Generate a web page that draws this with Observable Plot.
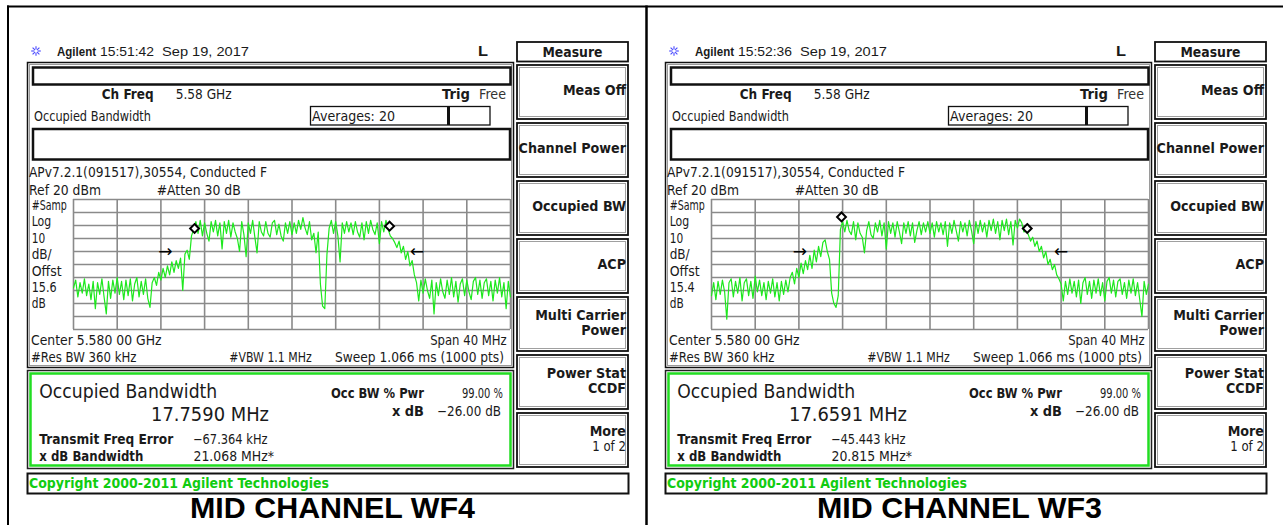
<!DOCTYPE html>
<html><head><meta charset="utf-8">
<script src="https://cdn.jsdelivr.net/npm/d3@7"></script>
<script src="https://cdn.jsdelivr.net/npm/@observablehq/plot@0.6"></script>
<style>
html,body{margin:0;padding:0;background:#fff;}
#page{position:relative;width:1283px;height:525px;overflow:hidden;background:#fff;}
#chrome{position:absolute;left:0;top:0;}
.plot{position:absolute;width:439px;height:132px;}
</style></head><body>
<div id="page"><svg id="chrome" width="1283" height="525"></svg></div>
<script>
// ---------- data ----------
// sweep: center 5.580 GHz, span 40 MHz -> offsets in MHz, 0.2 MHz per sample
const sweepStartMHz = -20, sweepStepMHz = 0.2;
const gridFreqMHz = [-20,-16,-12,-8,-4,0,4,8,12,16,20];
const gridLevelDbm = [-80,-70,-60,-50,-40,-30,-20,-10,0,10,20];

const traceWF4 = [
-48,-42,-55,-44,-52,-41,-54,-45,-57,-43,
-64,-44,-53,-41,-55,-68,-43,-56,-42,-52,
-40,-53,-43,-57,-42,-54,-41,-58,-45,-40,
-55,-43,-53,-41,-56,-63,-44,-40,-46,-36,
-42,-33,-40,-31,-38,-28,-36,-27,-33,-25,
-50,-22,-19,-26,-8,-3,3,-6,4,-8,
2,-6,-12,3,-5,4,-8,2,-18,3,
-6,4,-9,2,-5,-10,-20,3,-7,-24,
2,-6,4,-9,-21,3,-5,-8,3,-6,
-9,2,4,-7,1,-8,-12,2,-6,3,
-7,2,-6,4,-3,6,-2,-7,3,-11,
-6,-21,-5,-45,-62,-64,-22,-2,4,-6,
3,-8,-28,2,-6,3,-5,2,-7,3,
-5,-9,2,-11,3,-6,4,-3,-7,2,
-14,3,-5,4,-3,-8,-10,-13,-17,-12,
-21,-16,-26,-20,-31,-27,-38,-44,-58,-42,
-52,-41,-50,-56,-42,-68,-44,-54,-41,-51,
-56,-42,-53,-40,-55,-43,-59,-45,-41,-54,
-42,-51,-57,-43,-40,-53,-42,-56,-44,-41,
-54,-43,-58,-42,-52,-40,-55,-44,-64,-43,
-55];

const traceWF3 = [
-54,-44,-57,-43,-53,-42,-51,-72,-44,-41,
-55,-43,-52,-40,-58,-44,-41,-54,-43,-56,
-39,-51,-42,-54,-44,-57,-43,-52,-41,-55,
-44,-58,-43,-53,-42,-51,-40,-36,-45,-33,
-40,-29,-37,-27,-34,-23,-33,-19,-28,-16,
-24,-13,-11,-20,-26,-52,-60,-63,-54,-3,
3,-5,4,-4,-7,3,-11,2,-6,-9,
-21,-4,3,-7,-10,2,-5,4,-8,2,
-18,3,-6,2,-9,3,-5,-14,2,-6,
3,-8,2,-13,-4,3,-7,2,-5,3,
-6,2,-9,3,-5,2,-7,3,-16,2,
-6,4,-4,-12,3,-5,2,-8,4,-4,
-14,3,-6,4,-5,2,-9,4,-4,5,
-6,3,-11,4,-4,5,-7,3,-15,4,
-2,5,2,-5,-4,-7,-12,-9,-16,-12,
-20,-16,-25,-20,-30,-26,-34,-30,-38,-41,
-45,-58,-43,-53,-41,-52,-43,-55,-42,-60,
-44,-40,-53,-43,-56,-42,-52,-41,-54,-44,
-58,-43,-40,-52,-42,-55,-43,-41,-53,-44,
-56,-42,-52,-41,-54,-44,-57,-70,-43,-53,
-45];

const markerFreqWF4 = [-8.92, 8.93], markerLevelWF4 = [-2.3, -0.5];
const markerFreqWF3 = [-8.1, 8.9],   markerLevelWF3 = [6.6, -2.3];
const arrowFreqWF4 = [-11.6, 11.45], arrowFreqWF3 = [-11.9, 12.0];
const arrowLevel = -20.3, arrowGlyphs = ["→","←"];

const panelTitles = ["MID CHANNEL WF4", "MID CHANNEL WF3"];
const panelTimes = ["15:51:42", "15:52:36"];
const panelOffsets = ["15.6", "15.4"];
const panelObw = ["17.7590 MHz", "17.6591 MHz"];
const panelFreqErr = ["\u221267.364 kHz", "\u221245.443 kHz"];
const panelXdbBw = ["21.068 MHz*", "20.815 MHz*"];
const menuLabels = [["Meas Off"],["Channel Power"],["Occupied BW"],["ACP"],["Multi Carrier","Power"],["Power Stat","CCDF"],["More","1 of 2"]];

// ---------- chrome ----------
const svg = d3.select("#chrome");
function R(x1,y1,x2,y2,stroke,sw,fill){ svg.append("rect").attr("x",x1).attr("y",y1).attr("width",x2-x1).attr("height",y2-y1)
  .attr("fill",fill||"none").attr("stroke",stroke).attr("stroke-width",sw); }
function L(x1,y1,x2,y2,stroke,sw){ svg.append("line").attr("x1",x1).attr("y1",y1).attr("x2",x2).attr("y2",y2).attr("stroke",stroke).attr("stroke-width",sw); }
function T(x, yc, s, o={}){
  const size=o.size||13.5, fam=o.fam||"DejaVu Sans";
  const t = svg.append("text").attr("font-family",fam).attr("font-size",size)
    .attr("font-weight",o.bold?"bold":"normal").attr("fill",o.fill||"#1a1a1a")
    .attr("y", yc + size*(o.base||0.365)).text(s);
  const nat = t.node().getComputedTextLength();
  const w = o.w!=null ? o.w : nat*(o.k!=null ? o.k : (o.bold?0.91:0.84));
  const x0 = o.anchor==="end" ? x-w : o.anchor==="middle" ? x-w/2 : x;
  t.attr("x",x0).attr("textLength",w).attr("lengthAdjust","spacingAndGlyphs");
}

// outer frame
L(7,6.5,1283,6.5,"#000",2);
L(8,5.5,8,525,"#000",2);
L(646.5,5.5,646.5,525,"#000",2.5);

const dxs = [0, 638];
dxs.forEach((dx,pi)=>{
  // header
  const cx=36+dx, cy=51;
  for(let a=0;a<8;a++){ const an=a*Math.PI/4; L(cx+1.5*Math.cos(an),cy+1.5*Math.sin(an),cx+4.8*Math.cos(an),cy+4.8*Math.sin(an),"#4646ff",1.1); }
  T(57+dx,51,"Agilent",{bold:true,fam:"Liberation Sans",size:13,w:39,base:0.358});
  T(100+dx,51,panelTimes[pi],{fam:"Liberation Sans",size:13,w:54,base:0.358});
  T(162+dx,51,"Sep 19, 2017",{fam:"Liberation Sans",size:13,w:87,base:0.358});
  T(478+dx,51,"L",{bold:true,fam:"Liberation Sans",size:14,w:10,base:0.358});

  // display box
  R(27.5+dx,62.5,513.5+dx,367.5,"#111",1.5);
  R(29.5+dx,64.5,511.5+dx,365.5,"#9a9a9a",1);
  R(33+dx,67.5,510.5+dx,84.5,"#111",2.5);
  T(101.7+dx,94.3,"Ch Freq",{bold:true,w:52});
  T(175.7+dx,94.3,"5.58 GHz",{w:56});
  T(442+dx,94.3,"Trig",{bold:true,w:28});
  T(479+dx,94.3,"Free",{w:27,fill:"#333"});
  T(34+dx,116,"Occupied Bandwidth",{w:117});
  R(310.5+dx,106.5,490+dx,125,"#111",1.3);
  L(448.5+dx,106.5,448.5+dx,125,"#111",3);
  T(312+dx,116,"Averages: 20",{w:83});
  R(33+dx,129,510+dx,159.5,"#111",2.5);
  T(29+dx,171.7,"APv7.2.1(091517),30554, Conducted F",{w:238});
  T(29+dx,190,"Ref 20 dBm",{w:72});
  T(156.7+dx,190,"#Atten 30 dB",{w:84});
  const side=[["#Samp",35],["Log",19.5],["10",13.5],["dB/",20],["Offst",30],[panelOffsets[pi],25],["dB",14]];
  side.forEach((s,i)=>T(31.7+dx,205+i*16.4,s[0],{w:s[1]}));
  T(31+dx,340,"Center 5.580 00 GHz",{w:130.5});
  T(506.7+dx,340,"Span 40 MHz",{w:76.5,anchor:"end"});
  T(31+dx,357.3,"#Res BW 360 kHz",{w:105.5});
  T(229.3+dx,357.3,"#VBW 1.1 MHz",{w:82.4});
  T(504+dx,357.3,"Sweep 1.066 ms (1000 pts)",{w:169,anchor:"end"});

  // result box
  R(27.5+dx,370.5,513.5+dx,468.5,"#222",1.5);
  R(30.5+dx,373.5,510.5+dx,465.5,"#22dd22",2.5,"#fff");
  T(39.3+dx,390.5,"Occupied Bandwidth",{size:19.5,w:178});
  T(151+dx,414,panelObw[pi],{size:19.5,w:118});
  T(331+dx,393,"Occ BW % Pwr",{bold:true,w:93});
  T(503+dx,393,"99.00 %",{w:41,anchor:"end"});
  T(392+dx,411.5,"x dB",{bold:true,w:32});
  T(501+dx,411.5,"\u221226.00 dB",{w:64,anchor:"end"});
  T(39.3+dx,439,"Transmit Freq Error",{bold:true,w:134});
  T(193+dx,439,panelFreqErr[pi],{w:74.5});
  T(39.3+dx,456.5,"x dB Bandwidth",{bold:true,w:104});
  T(193.5+dx,456.5,panelXdbBw[pi],{w:80.5});

  // menu
  R(517+dx,42,628+dx,61.5,"#111",1.8);
  T(572.5+dx,51.7,"Measure",{bold:true,size:14,w:60,anchor:"middle"});
  const tops=[65,123,181,239,297,355,413];
  tops.forEach((t,i)=>{
    R(517+dx,t,628+dx,t+54,"#111",1.8);
    R(519.5+dx,t+2.5,625.5+dx,t+51.5,"#a0a0a0",1);
    const lab=menuLabels[i];
    if(lab.length===1) T(626+dx,t+25,lab[0],{bold:true,size:14,anchor:"end"});
    else {
      T(626+dx,t+18,lab[0],{bold:true,size:14,anchor:"end"});
      T(626+dx,t+33,lab[1],{bold:i!==6,size:14,anchor:"end",k:i===6?0.84:0.91});
    }
  });

  // copyright bar
  R(27.5+dx,473.5,628.5+dx,493.5,"#111",2);
  T(29+dx,483.5,"Copyright 2000-2011 Agilent Technologies",{bold:true,fill:"#11cc11",w:300});
});

// titles
T(190,507.5,panelTitles[0],{bold:true,fam:"Liberation Sans",size:30,w:285,fill:"#000",base:0.358});
T(817,507.5,panelTitles[1],{bold:true,fam:"Liberation Sans",size:30,w:285,fill:"#000",base:0.358});

// ---------- spectrum plots (Observable Plot) ----------
function spectrum(trace, mf, ml, af){
  const data = trace.map((p,i)=>({f: sweepStartMHz + i*sweepStepMHz, p}));
  const markers = mf.map((f,i)=>({f, p: ml[i]}));
  const arrows = af.map((f,i)=>({f, p: arrowLevel, t: arrowGlyphs[i]}));
  return Plot.plot({
    width: 439, height: 132, marginTop: 1, marginBottom: 1, marginLeft: 1, marginRight: 1,
    x: {domain: [-20, 20], axis: null},
    y: {domain: [-80, 20], axis: null},
    style: {background: "transparent", overflow: "visible"},
    marks: [
      Plot.ruleX(gridFreqMHz, {stroke: "#8a8a8a", strokeWidth: 1.6}),
      Plot.ruleY(gridLevelDbm, {stroke: "#8a8a8a", strokeWidth: 1.6}),
      Plot.line(data, {x: "f", y: "p", stroke: "#1ee81e", strokeWidth: 1.2}),
      Plot.dot(markers, {x: "f", y: "p", symbol: "diamond2", r: 4, stroke: "#000", strokeWidth: 2, fill: "#fff"}),
      Plot.text(arrows, {x: "f", y: "p", text: "t", fontSize: 17, fill: "#000", fontFamily: "DejaVu Sans"})
    ]
  });
}
const page = document.getElementById("page");
[[traceWF4, markerFreqWF4, markerLevelWF4, arrowFreqWF4, 72],
 [traceWF3, markerFreqWF3, markerLevelWF3, arrowFreqWF3, 710]].forEach(([tr, mf, ml, af, left])=>{
  const div = document.createElement("div");
  div.className = "plot";
  div.style.left = left + "px";
  div.style.top = "198px";
  div.appendChild(spectrum(tr, mf, ml, af));
  page.appendChild(div);
});
</script>
</body></html>
